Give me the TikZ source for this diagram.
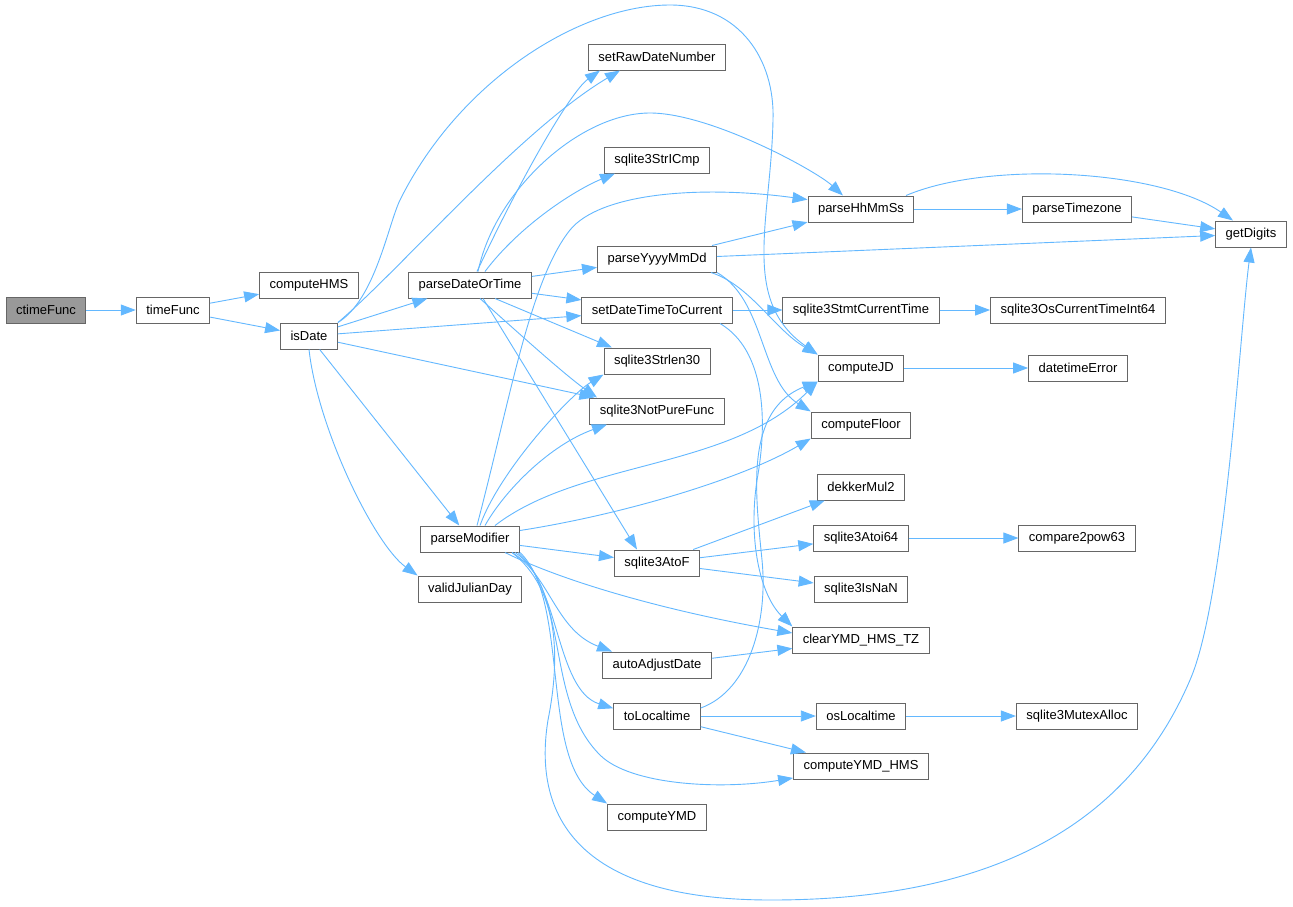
\documentclass[tikz,border=0pt]{standalone}
\usepackage{fontspec}
\setmainfont{Liberation Sans}
\usetikzlibrary{arrows.meta}
\definecolor{callblue}{HTML}{63B8FF}
\definecolor{boxgray}{HTML}{666666}
\definecolor{rootgray}{HTML}{999999}

\begin{document}
\begin{tikzpicture}[x=1pt,y=-1pt,
		fn/.style={draw=boxgray,fill=white,line width=1pt,minimum height=26pt,inner xsep=10pt,inner ysep=0pt,font=\fontsize{13}{15}\selectfont},
		root/.style={fn,fill=rootgray},
		call/.style={draw=callblue,line width=0.9pt,-{Triangle[length=15pt,width=11pt]}}]
		\fill[white] (0,0) rectangle (1293,906);
		\useasboundingbox (0,0) rectangle (1293,906);
		% first column
		\node[root] (ctimeFunc) at (46,310) {ctimeFunc};
		\node[fn] (timeFunc) at (173,310) {timeFunc};
		\node[fn] (computeHMS) at (309,285) {computeHMS};
		\node[fn] (isDate) at (309,336) {isDate};
		\node[fn] (parseDateOrTime) at (470,285) {parseDateOrTime};
		\node[fn] (parseModifier) at (470,539) {parseModifier};
		\node[fn] (validJulianDay) at (470,589) {validJulianDay};
		% middle column
		\node[fn] (setRawDateNumber) at (657,57) {setRawDateNumber};
		\node[fn] (sqlite3StrICmp) at (657,160) {sqlite3StrICmp};
		\node[fn] (parseYyyyMmDd) at (657,259) {parseYyyyMmDd};
		\node[fn] (setDateTimeToCurrent) at (657,310) {setDateTimeToCurrent};
		\node[fn] (sqlite3Strlen30) at (657,361) {sqlite3Strlen30};
		\node[fn] (sqlite3NotPureFunc) at (657,411) {sqlite3NotPureFunc};
		\node[fn] (sqlite3AtoF) at (657,563) {sqlite3AtoF};
		\node[fn] (autoAdjustDate) at (657,665) {autoAdjustDate};
		\node[fn] (toLocaltime) at (657,716) {toLocaltime};
		\node[fn] (computeYMD) at (657,817) {computeYMD};
		% next column
		\node[fn] (parseHhMmSs) at (861,209) {parseHhMmSs};
		\node[fn] (sqlite3StmtCurrentTime) at (861,310) {sqlite3StmtCurrentTime};
		\node[fn] (computeJD) at (861,368) {computeJD};
		\node[fn] (computeFloor) at (861,425) {computeFloor};
		\node[fn] (dekkerMul2) at (861,487) {dekkerMul2};
		\node[fn] (sqlite3Atoi64) at (861,538) {sqlite3Atoi64};
		\node[fn] (sqlite3IsNaN) at (861,589) {sqlite3IsNaN};
		\node[fn] (clearYMDHMSTZ) at (861,640) {clearYMD\_HMS\_TZ};
		\node[fn] (osLocaltime) at (861,716) {osLocaltime};
		\node[fn] (computeYMDHMS) at (861,766) {computeYMD\_HMS};
		% last columns
		\node[fn] (parseTimezone) at (1077,209) {parseTimezone};
		\node[fn] (sqlite3OsCurrentTimeInt64) at (1078,310) {sqlite3OsCurrentTimeInt64};
		\node[fn] (datetimeError) at (1078,368) {datetimeError};
		\node[fn] (compare2pow63) at (1077,538) {compare2pow63};
		\node[fn] (sqlite3MutexAlloc) at (1077,716) {sqlite3MutexAlloc};
		\node[fn] (getDigits) at (1251,234) {getDigits};
		% root chain
		\draw[call] (ctimeFunc) -- (timeFunc);
		\draw[call] (timeFunc) -- (computeHMS);
		\draw[call] (timeFunc) -- (isDate);
		% isDate
		\draw[call] (isDate) -- (parseDateOrTime);
		\draw[call] (isDate) -- (setDateTimeToCurrent);
		\draw[call] (isDate) -- (sqlite3NotPureFunc);
		\draw[call] (isDate) -- (parseModifier);
		\draw[call] (isDate.south) .. controls (318,430) and (375,545) .. (validJulianDay.north west);
		\draw[call] (isDate.north east) .. controls (400,270) and (520,130) .. ([xshift=-37pt]setRawDateNumber.south);
		\draw[call] (isDate.north east) .. controls (375,300) and (388,225) .. (400,200) .. controls (460,80) and (580,5) .. (670,5) .. controls (740,5) and (775,60) .. (773,120) .. controls (771,220) and (740,300) .. (computeJD.north west);
		% parseDateOrTime
		\draw[call] (parseDateOrTime) -- (parseYyyyMmDd);
		\draw[call] (parseDateOrTime) -- (setDateTimeToCurrent);
		\draw[call] ([xshift=7pt]parseDateOrTime.north) .. controls (520,180) and (570,92) .. ([xshift=-57pt]setRawDateNumber.south);
		\draw[call] ([xshift=8pt]parseDateOrTime.north) .. controls (495,190) and (580,113) .. (650,113) .. controls (710,113) and (815,170) .. ([xshift=-18pt]parseHhMmSs.north);
		\draw[call] ([xshift=15pt]parseDateOrTime.north) .. controls (520,225) and (575,190) .. ([xshift=-42pt]sqlite3StrICmp.south);
		\draw[call] ([xshift=25pt]parseDateOrTime.south) -- ([xshift=-45pt]sqlite3Strlen30.north);
		\draw[call] ([xshift=10pt]parseDateOrTime.south) .. controls (515,330) and (565,375) .. ([xshift=-60pt]sqlite3NotPureFunc.north);
		\draw[call] ([xshift=13pt]parseDateOrTime.south) -- ([xshift=-20pt]sqlite3AtoF.north);
		% parseYyyyMmDd
		\draw[call] (parseYyyyMmDd) -- (parseHhMmSs);
		\draw[call] (parseYyyyMmDd) -- (getDigits);
		\draw[call] ([xshift=-6pt]parseYyyyMmDd.south east) .. controls (750,285) and (775,330) .. (computeJD.north west);
		\draw[call] (parseYyyyMmDd.south east) .. controls (765,300) and (760,380) .. (computeFloor.north west);
		% setDateTimeToCurrent
		\draw[call] (setDateTimeToCurrent) -- (sqlite3StmtCurrentTime);
		\draw[call] ([xshift=63pt]setDateTimeToCurrent.south) .. controls (765,350) and (768,420) .. (757,480) .. controls (748,540) and (760,595) .. (clearYMDHMSTZ.north west);
		\draw[call] (sqlite3StmtCurrentTime) -- (sqlite3OsCurrentTimeInt64);
		% parseHhMmSs
		\draw[call] (parseHhMmSs) -- (parseTimezone);
		\draw[call] ([xshift=45pt]parseHhMmSs.north) .. controls (990,160) and (1160,170) .. ([xshift=-18pt]getDigits.north);
		\draw[call] (parseTimezone) -- (getDigits);
		\draw[call] (computeJD) -- (datetimeError);
		% parseModifier
		\draw[call] ([xshift=7pt]parseModifier.north) .. controls (510,400) and (530,280) .. (570,230) .. controls (600,193) and (700,185) .. (parseHhMmSs.170);
		\draw[call] ([xshift=10pt]parseModifier.north) .. controls (500,470) and (570,395) .. (sqlite3Strlen30.south west);
		\draw[call] ([xshift=15pt]parseModifier.north) .. controls (505,490) and (550,445) .. ([xshift=-50pt]sqlite3NotPureFunc.south);
		\draw[call] ([xshift=25pt]parseModifier.north) .. controls (580,460) and (730,470) .. (computeJD.south west);
		\draw[call] ([yshift=-5pt]parseModifier.north east) .. controls (620,515) and (740,480) .. (computeFloor.south west);
		\draw[call] (parseModifier) -- (sqlite3AtoF);
		\draw[call] ([xshift=35pt]parseModifier.south) .. controls (560,580) and (660,610) .. ([yshift=7pt]clearYMDHMSTZ.west);
		\draw[call] ([xshift=42pt]parseModifier.south) .. controls (550,575) and (555,630) .. ([xshift=-45pt]autoAdjustDate.north);
		\draw[call] ([xshift=45pt]parseModifier.south) .. controls (560,580) and (555,690) .. (toLocaltime.170);
		\draw[call] ([xshift=48pt]parseModifier.south) .. controls (570,600) and (545,700) .. (600,755) .. controls (630,785) and (720,790) .. (computeYMDHMS.190);
		\draw[call] ([xshift=50pt]parseModifier.south) .. controls (570,600) and (540,760) .. (computeYMD.north west);
		\draw[call] ([xshift=42pt]parseModifier.south) .. controls (560,590) and (560,660) .. (548,720) .. controls (535,800) and (560,900) .. (771,900) .. controls (1000,900) and (1130,820) .. (1190,680) .. controls (1225,600) and (1240,330) .. (getDigits.south);
		% sqlite3AtoF
		\draw[call] (sqlite3AtoF) -- (dekkerMul2);
		\draw[call] (sqlite3AtoF) -- (sqlite3Atoi64);
		\draw[call] (sqlite3AtoF) -- (sqlite3IsNaN);
		\draw[call] (sqlite3Atoi64) -- (compare2pow63);
		% autoAdjustDate, toLocaltime
		\draw[call] (autoAdjustDate) -- (clearYMDHMSTZ);
		\draw[call] (toLocaltime) -- (osLocaltime);
		\draw[call] (toLocaltime) -- (computeYMDHMS);
		\draw[call] ([yshift=8pt]toLocaltime.east) .. controls (750,690) and (768,620) .. (762,560) .. controls (755,490) and (745,410) .. (computeJD.south west);
		\draw[call] (osLocaltime) -- (sqlite3MutexAlloc);
	\end{tikzpicture}
\end{document}
